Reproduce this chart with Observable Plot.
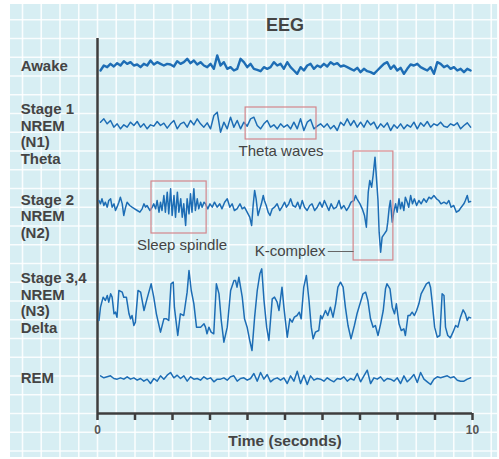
<!DOCTYPE html>
<html>
<head>
<meta charset="utf-8">
<script src="https://cdn.jsdelivr.net/npm/d3@7"></script>
<script src="https://cdn.jsdelivr.net/npm/@observablehq/plot@0.6"></script>
<style>
  html, body { margin: 0; padding: 0; background: #fff; }
  #chart svg { display: block; }
</style>
</head>
<body>
<div id="chart"></div>
<script>
// ---------- DATA (amplitudes in µV) ----------
const stageNames = ["Awake", "Stage 1", "Stage 2", "Stage 3,4", "REM"];
const stageLabels = ["Awake", "Stage 1\nNREM\n(N1)\nTheta", "Stage 2\nNREM\n(N2)", "Stage 3,4\nNREM\n(N3)\nDelta", "REM"];

// uniformly sampled traces (0.08 s .. 9.95 s)
const awakeV = [-12,3,-2,8,0,10,3,16,8,13,3,6,-2,8,3,18,6,13,8,3,8,6,0,16,8,13,23,10,18,6,13,3,-2,8,-7,33,3,13,-7,-2,-12,-7,23,13,-2,8,-7,-10,-14,-2,-7,-2,13,3,8,-7,13,-2,-12,-22,-2,-12,3,8,-7,3,-2,8,0,13,6,10,0,3,-2,-7,-12,-4,-17,-7,-14,-17,-22,-12,-2,8,13,-7,3,-12,-4,-22,-7,6,3,8,-2,-7,-12,-2,-22,13,8,-2,3,-7,-2,-12,-7,-17,-7,-12];
const stage1V = [10,20,5,15,-5,5,-10,2,-5,10,0,12,-5,5,-10,2,-2,12,0,7,-8,5,15,-10,5,10,-5,15,2,20,5,-5,8,-10,30,40,-20,10,-10,25,-5,15,-10,10,-2,20,25,0,-10,5,15,-5,2,-10,5,-5,2,-10,10,-10,20,-15,10,18,-10,-2,5,-5,5,-10,0,-15,10,0,20,0,15,-5,10,-5,15,2,10,-10,5,-5,8,-15,2,-8,5,-10,2,-5,10,-10,8,-2,12,-5,5,0,10,-2,-5,5,0,8,-10,0,8,-5];
const remV = [8,2,5,8,0,-2,2,-2,5,-2,2,-5,0,-8,-2,-15,0,-8,8,-2,10,18,2,10,0,8,-8,5,-2,0,-5,5,-2,2,-10,-2,-2,2,-5,5,8,-8,0,2,-5,0,15,-8,18,-2,12,-10,-2,2,-5,2,-15,8,-8,22,-15,10,-18,8,-5,0,-2,-8,2,-5,-10,0,-2,5,-8,0,-5,15,-10,8,25,-15,2,-2,5,-8,0,-2,-8,2,-15,8,-10,0,12,-12,18,-2,-10,-18,-2,5,2,5,8,2,5,-5,-8,-8,-2,2];
const sampleStart = 0.08, sampleEnd = 9.95;

// Stage 2 (sleep spindle + K-complex)
const stage2T = [0.04,0.08,0.12,0.17,0.21,0.26,0.30,0.35,0.39,0.44,0.48,0.52,0.57,0.61,0.66,0.70,0.75,0.79,0.86,0.92,0.99,1.06,1.13,1.19,1.24,1.28,1.32,1.40,1.46,1.50,1.55,1.59,1.64,1.68,1.72,1.77,1.81,1.86,1.90,1.95,1.99,2.04,2.08,2.13,2.17,2.22,2.26,2.30,2.35,2.39,2.44,2.48,2.52,2.57,2.61,2.66,2.70,2.75,2.79,2.84,2.88,2.94,3.00,3.06,3.12,3.19,3.26,3.32,3.39,3.46,3.53,3.59,3.65,3.72,3.80,3.86,3.92,3.99,4.06,4.11,4.15,4.19,4.23,4.28,4.33,4.37,4.42,4.45,4.50,4.55,4.60,4.66,4.72,4.79,4.86,4.92,4.99,5.04,5.10,5.15,5.21,5.28,5.34,5.40,5.46,5.52,5.59,5.66,5.72,5.79,5.86,5.93,5.99,6.05,6.11,6.17,6.23,6.30,6.37,6.44,6.50,6.57,6.64,6.70,6.76,6.84,6.88,6.92,7.00,7.06,7.12,7.17,7.22,7.26,7.31,7.35,7.40,7.44,7.48,7.51,7.55,7.59,7.65,7.71,7.74,7.78,7.81,7.86,7.90,7.95,7.99,8.04,8.08,8.12,8.17,8.21,8.26,8.30,8.35,8.40,8.45,8.51,8.57,8.63,8.70,8.77,8.84,8.90,8.97,9.04,9.10,9.16,9.24,9.31,9.37,9.43,9.50,9.57,9.64,9.70,9.77,9.81,9.86,9.90,9.95];
const stage2V = [12,2,17,-3,7,-8,12,17,-8,2,-18,-8,7,22,2,-33,-8,7,-3,-8,-13,-18,-23,-13,2,-8,-3,-18,-8,2,-13,12,-23,7,-18,27,-23,37,-28,47,-33,27,-38,37,-23,17,-38,2,-63,17,-28,32,-23,47,-18,17,-13,7,-8,7,2,-13,2,-8,7,-8,2,-13,7,17,-8,2,-18,-13,2,-13,-8,-23,-38,-63,-3,42,17,-33,-13,2,27,12,-3,-23,-33,-13,-8,2,-18,-8,7,-8,2,17,-3,-8,7,-13,12,-8,-18,-3,2,-18,-8,7,-8,12,-3,-18,2,-13,-8,12,-13,-3,-18,-8,7,12,27,17,2,-13,-33,-68,37,72,52,87,142,77,12,-83,-143,-98,-88,-78,-53,-8,12,-53,-23,2,-23,17,-13,7,-18,22,7,-8,27,2,17,-3,12,2,17,7,22,17,27,17,12,2,7,2,12,-8,-3,-23,-18,-8,2,12,27,7,9];

// Stage 3,4 (delta waves)
const stage3T = [0.04,0.08,0.15,0.21,0.26,0.30,0.35,0.39,0.44,0.48,0.52,0.57,0.66,0.70,0.77,0.84,0.88,0.92,0.97,1.01,1.08,1.15,1.24,1.32,1.43,1.50,1.57,1.68,1.77,1.84,1.90,1.96,2.02,2.05,2.14,2.21,2.30,2.39,2.44,2.50,2.57,2.64,2.75,2.84,2.88,2.92,2.97,3.03,3.10,3.17,3.24,3.30,3.37,3.46,3.55,3.64,3.68,3.72,3.77,3.86,3.92,3.99,4.06,4.12,4.19,4.26,4.33,4.38,4.44,4.51,4.57,4.66,4.72,4.79,4.84,4.92,4.97,5.06,5.13,5.19,5.25,5.32,5.38,5.43,5.50,5.57,5.64,5.70,5.75,5.81,5.90,5.95,5.99,6.08,6.14,6.21,6.28,6.35,6.41,6.48,6.55,6.61,6.68,6.76,6.85,6.92,7.00,7.08,7.15,7.21,7.28,7.35,7.41,7.48,7.55,7.62,7.68,7.72,7.80,7.86,7.92,7.97,8.04,8.10,8.17,8.21,8.28,8.33,8.39,8.45,8.51,8.57,8.63,8.70,8.77,8.84,8.88,8.92,8.99,9.06,9.13,9.19,9.24,9.28,9.34,9.41,9.48,9.55,9.61,9.68,9.75,9.81,9.86,9.90,9.95];
const stage3V = [-30,10,40,30,45,25,50,40,-10,-5,-20,60,55,40,40,-10,-25,-15,-45,-35,60,55,0,35,80,40,-10,-65,-25,-25,-30,80,85,10,-75,-10,-15,55,120,60,20,-50,-50,-40,-50,-70,-50,-65,-70,80,50,-30,-95,-50,60,90,90,70,100,40,-25,-50,-90,-120,-20,60,110,125,30,-50,-90,35,40,25,0,70,10,-80,-25,-35,-20,-15,-5,-25,70,105,30,-50,-85,-65,-60,-15,-25,0,-15,10,-20,20,70,85,70,10,-45,-85,-45,-10,20,50,55,30,-25,-50,-45,-75,-40,0,65,80,65,10,-10,20,-40,-60,-55,-75,-15,-15,-5,-15,0,20,50,65,80,85,70,30,-50,-80,-75,50,45,-50,-75,-82,-65,-45,-50,-20,2,-10,-30,-20,-22];

// axis ticks
const xTicks = [0,1,2,3,4,5,6,7,8,9,10];
const xTickLabels = ["0","","","","","","","","","","10"];

// annotations (time windows in s, amplitude window in µV relative to trace)
const annotations = [
  {label: "Theta waves",   stage: 1, t1: 3.95, t2: 5.84, lo: -42,  hi: 54},
  {label: "Sleep spindle", stage: 2, t1: 1.44, t2: 2.91, lo: -87,  hi: 69},
  {label: "K-complex",     stage: 2, t1: 6.83, t2: 7.89, lo: -168, hi: 159}
];

// ---------- LAYOUT ----------
const stageBaseline = [1041, 864, 627, 309, 105];   // vertical placement of each trace (µV units of the stacked scale)
const stageLabelY   = [1044, 839, 593, 332, 108];
const font = "'Liberation Sans', Arial, Helvetica, sans-serif";
const traceColor = "#1d6db5";
const axisColor = "#3d3d3d";
const boxColor = "#d4868c";

function uniform(vals, stageIdx) {
  const n = vals.length;
  return vals.map((v, i) => ({stage: stageNames[stageIdx], t: sampleStart + i * (sampleEnd - sampleStart) / (n - 1), y: stageBaseline[stageIdx] + v}));
}
function paired(ts, vals, stageIdx) {
  return ts.map((t, i) => ({stage: stageNames[stageIdx], t, y: stageBaseline[stageIdx] + vals[i]}));
}
const awake = uniform(awakeV, 0);
const stage1 = uniform(stage1V, 1);
const stage2 = paired(stage2T, stage2V, 2);
const stage3 = paired(stage3T, stage3V, 3);
const rem = uniform(remV, 4);

const gridX = d3.range(-2, 10.51, 0.5);
const gridY = d3.range(-2, 22).map(k => k * 56.25);
const bg = [{x1: -2.32, x2: 10.67, y1: -132, y2: 1227}];

const boxRows = annotations.map(a => ({...a, base: stageBaseline[a.stage]}));
const theta = boxRows.filter(a => a.label === "Theta waves");
const spindle = boxRows.filter(a => a.label === "Sleep spindle");
const kc = boxRows.filter(a => a.label === "K-complex");

const chart = Plot.plot({
  width: 499,
  height: 459,
  marginLeft: 97,
  marginRight: 27,
  marginTop: 38,
  marginBottom: 46,
  x: {domain: [0, 10], axis: null},
  y: {domain: [0, 1125], axis: null},
  style: {fontFamily: font, background: "#fff", overflow: "visible"},
  marks: [
    Plot.rect(bg, {x1: "x1", x2: "x2", y1: "y1", y2: "y2", fill: "#d7eef3"}),
    Plot.ruleX(gridX, {y1: -132, y2: 1227, stroke: "#fff", strokeWidth: 1.6, strokeOpacity: 0.85}),
    Plot.ruleY(gridY, {x1: -2.32, x2: 10.67, stroke: "#fff", strokeWidth: 1.6, strokeOpacity: 0.85}),
    Plot.ruleX([0], {stroke: axisColor, strokeWidth: 2.5}),
    Plot.ruleY([0], {stroke: axisColor, strokeWidth: 2.5}),
    Plot.axisX(xTicks, {tickSize: 7, tickPadding: 5, stroke: axisColor, strokeWidth: 2.5,
      tickFormat: d => xTickLabels[xTicks.indexOf(d)], fontSize: 12, fontWeight: "bold", fill: "#555", label: null}),
    Plot.text(["Time (seconds)"], {frameAnchor: "bottom", lineAnchor: "middle", dy: 28, fontSize: 15.5, fontWeight: "bold", fill: "#444"}),
    Plot.text(["EEG"], {frameAnchor: "top", lineAnchor: "middle", dy: -13, fontSize: 18, fontWeight: "bold", fill: "#444"}),
    Plot.text(stageLabels, {x: -2.05, y: (d, i) => stageLabelY[i], text: d => d, textAnchor: "start",
      lineAnchor: "middle", lineHeight: 1.1, fontSize: 15, fontWeight: "bold", fill: "#444"}),
    Plot.line(awake, {x: "t", y: "y", stroke: traceColor, strokeWidth: 2.4, strokeLinejoin: "round"}),
    Plot.line(stage1, {x: "t", y: "y", stroke: traceColor, strokeWidth: 1.5, strokeLinejoin: "round"}),
    Plot.line(stage2, {x: "t", y: "y", stroke: traceColor, strokeWidth: 1.5, strokeLinejoin: "round"}),
    Plot.line(stage3, {x: "t", y: "y", stroke: traceColor, strokeWidth: 1.5, strokeLinejoin: "round"}),
    Plot.line(rem, {x: "t", y: "y", stroke: traceColor, strokeWidth: 1.5, strokeLinejoin: "round"}),
    Plot.rect(boxRows, {x1: "t1", x2: "t2", y1: d => d.base + d.lo, y2: d => d.base + d.hi, fill: "none", stroke: boxColor, strokeWidth: 1.2}),
    Plot.text(theta, {x: d => (d.t1 + d.t2) / 2, y: d => d.base + d.lo, text: "label", dy: 12, fontSize: 15, fill: "#444"}),
    Plot.text(spindle, {x: d => (d.t1 + d.t2) / 2, y: d => d.base + d.lo, text: "label", dy: 12, dx: 3, fontSize: 15, fill: "#444"}),
    Plot.text(kc, {x: "t1", y: d => d.base - 141, text: "label", dx: -28, textAnchor: "end", fontSize: 15, fill: "#444"}),
    Plot.link(kc, {x1: d => d.t1 - 0.69, x2: "t1", y1: d => d.base - 141, y2: d => d.base - 141, stroke: "#666", strokeWidth: 1})
  ]
});
document.getElementById("chart").appendChild(chart);
</script>
</body>
</html>
